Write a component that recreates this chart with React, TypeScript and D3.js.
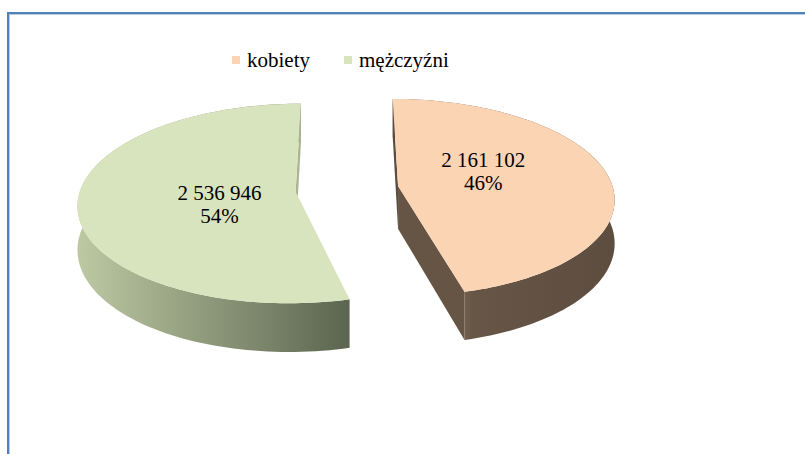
import React from 'react';
import * as d3 from 'd3';

// values
const categories = ['kobiety', 'mężczyźni'];
const values = [2161102, 2536946];
const topColors = ['#FBD4B4', '#D7E4BD'];
const wallStops = [
  [['0', '#6c5a49'], ['0.3', '#786451'], ['0.36', '#675646'], ['1', '#5d4d3f']],
  [['0', '#bdc9a3'], ['1', '#5b654f']],
];
const cutColors = ['#665545', '#aab693'];
const backCutColors = ['#5c4c3f', '#a9b592'];

const W = 805;
const H = 454;

// simple perspective camera looking at the pie from the front, above it
const cam = { vx: 347, horizon: -652, fx: 1850, fy: 1900, hc: 3.806, d0: 8.6, depth: 0.194 };
const explode = 0.24;
const labelR = 0.4;
const labelTurn = -0.23; // labels sit a little counter-clockwise of the bisector
const labelDx = 7;

const project = (X: number, Z: number, bottom = false): [number, number] => {
  const w = cam.d0 - Z;
  return [cam.vx + (cam.fx * X) / w, cam.horizon + (cam.fy * (cam.hc + (bottom ? cam.depth : 0))) / w];
};

const fmt = d3.formatLocale({ decimal: ',', thousands: ' ', grouping: [3], currency: ['', ''] }).format(',d');
const pct = d3.format('.0%');
const FONT = 'Liberation Serif';

const line = d3.line<[number, number]>().curve(d3.curveLinear);

export default function App() {
  const total = d3.sum(values);
  const arcs = d3.pie<number>().sort(null).startAngle(0).endAngle(2 * Math.PI)(values);

  const slices = arcs.map((a, i) => {
    const mid = (a.startAngle + a.endAngle) / 2;
    const ox = explode * Math.sin(mid);
    const oz = -explode * Math.cos(mid);
    const pt = (t: number, r: number, bottom = false) =>
      project(ox + r * Math.sin(t), oz - r * Math.cos(t), bottom);
    const steps = d3.range(0, 121).map(k => a.startAngle + ((a.endAngle - a.startAngle) * k) / 120);
    const topArc = steps.map(t => pt(t, 1));
    const botArc = steps.map(t => pt(t, 1, true));
    const top = line([pt(0, 0), ...topArc])! + 'Z';
    const wall = line([...topArc, ...botArc.reverse()])! + 'Z';
    const xs = topArc.map(p => p[0]);

    // radial cut faces, kept only when they face the camera
    const camX = 0 - ox;
    const camZ = cam.d0 - oz;
    const cuts: { d: string; color: string }[] = [];
    const addCut = (t: number, nx: number, nz: number, color: string) => {
      if (nx * camX + nz * camZ <= 0) return;
      cuts.push({ d: line([pt(t, 0), pt(t, 1), pt(t, 1, true), pt(t, 0, true)])! + 'Z', color });
    };
    addCut(a.startAngle, -Math.cos(a.startAngle), -Math.sin(a.startAngle), a.startAngle === 0 ? backCutColors[i] : cutColors[i]);
    addCut(a.endAngle, Math.cos(a.endAngle), Math.sin(a.endAngle), a.endAngle >= 2 * Math.PI - 1e-6 ? backCutColors[i] : cutColors[i]);

    const lp = pt(mid + labelTurn, labelR);
    return { i, top, wall, cuts, x1: d3.min(xs)!, x2: d3.max(xs)!, lx: lp[0] + labelDx, ly: lp[1], value: a.data };
  });

  const legendX = [232, 344];

  return (
    <svg width={W} height={H} fontFamily={FONT} style={{ position: 'absolute', left: 0, top: 0, background: '#fff' }}>
      <defs>
        {slices.map(s => (
          <linearGradient key={s.i} id={`wall${s.i}`} gradientUnits="userSpaceOnUse" x1={s.x1} x2={s.x2} y1={0} y2={0}>
            {wallStops[s.i].map(([o, c]) => (
              <stop key={o} offset={o} stopColor={c} />
            ))}
          </linearGradient>
        ))}
      </defs>

      {/* frame */}
      <rect x={7} y={12} width={W} height={2} fill="#4f81bd" />
      <rect x={9} y={14} width={W} height={1} fill="#b9cde5" />
      <rect x={7} y={12} width={2} height={H} fill="#4f81bd" />
      <rect x={9} y={14} width={1} height={H} fill="#b9cde5" />

      {slices.map(s => (
        <g key={s.i}>
          <path d={s.wall} fill={`url(#wall${s.i})`} />
          {s.cuts.map((c, k) => (
            <path key={k} d={c.d} fill={c.color} />
          ))}
          <path d={s.top} fill={topColors[s.i]} />
          <text x={s.lx} y={s.ly - 6} textAnchor="middle" fontFamily={FONT} fontSize={21} fill="#000">
            {fmt(s.value)}
          </text>
          <text x={s.lx} y={s.ly + 17} textAnchor="middle" fontFamily={FONT} fontSize={21} fill="#000">
            {pct(s.value / total)}
          </text>
        </g>
      ))}

      {categories.map((c, i) => (
        <g key={c} transform={`translate(${legendX[i]},56)`}>
          <rect width={8} height={8} fill={topColors[i]} />
          <text x={15} y={11} fontFamily={FONT} fontSize={21} fill="#000">
            {c}
          </text>
        </g>
      ))}
    </svg>
  );
}
